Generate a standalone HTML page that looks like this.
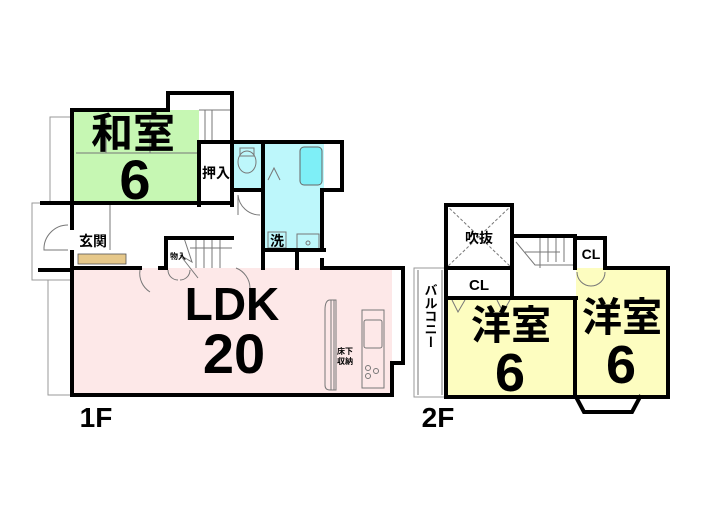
<!DOCTYPE html>
<html><head><meta charset="utf-8"><style>
html,body{margin:0;padding:0;background:#fff;width:705px;height:525px;overflow:hidden}
svg{display:block}
text{font-family:"Liberation Sans","Noto Sans CJK JP",sans-serif;font-weight:bold;fill:#000}
</style></head><body>
<svg width="705" height="525" viewBox="0 0 705 525" xmlns="http://www.w3.org/2000/svg">
<g fill="none" stroke="#999" stroke-width="1">
<polyline points="72,117 50,117 50,203 72,203"/>
<polyline points="72,203 32,203 32,280 72,280"/>
<polyline points="72,280 48,280 48,395 72,395"/>
<polyline points="446,268 414,268 414,397 446,397"/>
</g>
<rect x="72" y="110" width="127" height="93" fill="#c6f7b3"/>
<rect x="234" y="142" width="28" height="48" fill="#bdf7fb"/>
<rect x="264" y="142" width="60" height="48" fill="#bdf7fb"/>
<rect x="265" y="190" width="58" height="60" fill="#bdf7fb"/>
<rect x="300" y="147" width="22" height="38" rx="4" fill="#7eeff7" stroke="#666"/>
<rect x="72" y="268" width="320" height="127" fill="#fde8e8"/>
<rect x="392" y="268" width="10" height="95" fill="#fff"/>
<rect x="448" y="300" width="126" height="97" fill="#fdfdc0"/>
<rect x="576" y="268" width="92" height="129" fill="#fdfdc0"/>
<polygon points="576,397 640,397 632,412 584,412" fill="#fff"/>
<rect x="78" y="254" width="48" height="10" fill="#e6c88a" stroke="#555" stroke-width="0.8"/>
<g stroke="#777" stroke-width="1" fill="none">
<line x1="76" y1="153" x2="199" y2="153"/>
<line x1="106" y1="120" x2="106" y2="153"/>
<line x1="150" y1="120" x2="150" y2="153"/>
<line x1="199" y1="110" x2="232" y2="110"/>
<line x1="205" y1="110" x2="205" y2="142"/><line x1="212" y1="110" x2="212" y2="142"/>
<line x1="110" y1="203" x2="110" y2="250"/>
<ellipse cx="247" cy="162" rx="9" ry="11"/>
<rect x="240" y="148" width="14" height="8"/>
<rect x="297" y="234" width="22" height="16"/>
<circle cx="308" cy="243" r="2"/>
<rect x="268" y="232" width="18" height="16"/>
<polyline points="268,180 274,168 280,180"/>
<path d="M238 195 A 22 22 0 0 0 260 215"/><line x1="238" y1="195" x2="238" y2="215"/>
<path d="M68 225 A 24 24 0 0 0 44 250 L 68 250"/>
<path d="M140 270 A 22 22 0 0 0 150 292"/>
<path d="M236 268 A 22 22 0 0 1 250 288"/>
<path d="M168 270 A 10 10 0 0 0 178 280 M190 270 A 10 10 0 0 1 180 280"/>
<line x1="190" y1="248" x2="232" y2="248"/>
<line x1="196" y1="240" x2="196" y2="268"/><line x1="204" y1="240" x2="204" y2="268"/><line x1="212" y1="240" x2="212" y2="268"/><line x1="220" y1="240" x2="220" y2="268"/>
<polyline points="184,238 192,262 180,255 198,278"/>
<path d="M330 300 Q325 300 325 310 L325 385 Q325 390 330 390 L336 390 L336 300 Z"/>
<line x1="331" y1="300" x2="331" y2="390"/><line x1="334" y1="300" x2="334" y2="390"/>
<rect x="362" y="310" width="22" height="78"/>
<rect x="364" y="320" width="18" height="28" rx="2"/>
<circle cx="368" cy="368" r="2.5"/><circle cx="376" cy="371" r="2.5"/><circle cx="368" cy="376" r="2.5"/>
<line x1="446" y1="205" x2="512" y2="268" stroke-dasharray="3,2"/>
<line x1="512" y1="205" x2="446" y2="268" stroke-dasharray="3,2"/>
<line x1="540" y1="238" x2="540" y2="268"/><line x1="548" y1="238" x2="548" y2="262"/><line x1="556" y1="238" x2="556" y2="262"/><line x1="564" y1="238" x2="564" y2="262"/>
<polyline points="516,242 535,265 575,265"/><line x1="525" y1="252" x2="560" y2="252"/>
<path d="M577 272 A 14 14 0 0 0 591 286 M605 272 A 14 14 0 0 1 591 286"/>
<polyline points="452,300 458,312 465,300"/><polyline points="497,300 503,312 510,300"/>
<line x1="418" y1="270" x2="418" y2="395"/><line x1="442" y1="270" x2="442" y2="395"/>
</g>
<g stroke="#000" stroke-width="4" fill="none" stroke-linecap="square">
<polyline points="72,110 168,110 168,93 232,93 232,205"/>
<line x1="72" y1="110" x2="72" y2="205"/>
<line x1="199" y1="142" x2="264" y2="142"/>
<line x1="199" y1="142" x2="199" y2="205"/>
<line x1="72" y1="203" x2="232" y2="203"/>
<polyline points="264,142 342,142 342,190 322,190 322,250"/>
<line x1="263" y1="142" x2="263" y2="268"/>
<line x1="234" y1="190" x2="262" y2="190"/>
<line x1="264" y1="250" x2="324" y2="250"/>
<line x1="297" y1="250" x2="297" y2="268"/>
<line x1="72" y1="203" x2="72" y2="228"/><line x1="72" y1="252" x2="72" y2="268"/>
<line x1="42" y1="203" x2="72" y2="203"/><line x1="40" y1="270" x2="72" y2="270"/>
<polyline points="166,268 166,238 232,238"/>
<polyline points="72,268 72,395 392,395 392,363 403,363 403,268 322,268 322,260"/>
<line x1="72" y1="268" x2="140" y2="268"/>
<line x1="160" y1="268" x2="166" y2="268"/>
<rect x="446" y="205" width="66" height="63"/>
<polyline points="512,236 575,236 575,268"/>
<polyline points="575,238 605,238 605,268 668,268 668,397 576,397"/>
<polyline points="446,268 446,397 574,397"/>
<line x1="512" y1="268" x2="512" y2="298"/>
<line x1="446" y1="298" x2="512" y2="298"/>
<line x1="512" y1="298" x2="576" y2="298"/>
<line x1="575" y1="298" x2="575" y2="397"/>
<polyline points="576,397 584,412 632,412 640,397"/>
</g>
<text x="133" y="148" font-size="42" text-anchor="middle">和室</text>
<text x="135" y="199" font-size="56" text-anchor="middle">6</text>
<text x="216" y="178" font-size="14" text-anchor="middle">押入</text>
<text x="93" y="246" font-size="14" text-anchor="middle">玄関</text>
<text x="277" y="246" font-size="14" text-anchor="middle">洗</text>
<text x="178" y="259" font-size="8" text-anchor="middle">物入</text>
<text x="232" y="320" font-size="46" text-anchor="middle">LDK</text>
<text x="234" y="373" font-size="56" text-anchor="middle">20</text>
<text x="345" y="354" font-size="8" text-anchor="middle">床下</text>
<text x="345" y="364" font-size="8" text-anchor="middle">収納</text>
<text x="96" y="427" font-size="28" text-anchor="middle">1F</text>
<text x="438" y="427" font-size="28" text-anchor="middle">2F</text>
<text x="479" y="243" font-size="14" text-anchor="middle">吹抜</text>
<text x="591" y="259" font-size="14" text-anchor="middle">CL</text>
<text x="479" y="290" font-size="15" text-anchor="middle">CL</text>
<text x="511" y="339" font-size="40" text-anchor="middle">洋室</text>
<text x="510" y="391" font-size="54" text-anchor="middle">6</text>
<text x="622" y="331" font-size="40" text-anchor="middle">洋室</text>
<text x="621" y="383" font-size="54" text-anchor="middle">6</text>
<text x="430" y="316" font-size="13" text-anchor="middle" style="writing-mode:vertical-rl">バルコニー</text>
</svg>
</body></html>
